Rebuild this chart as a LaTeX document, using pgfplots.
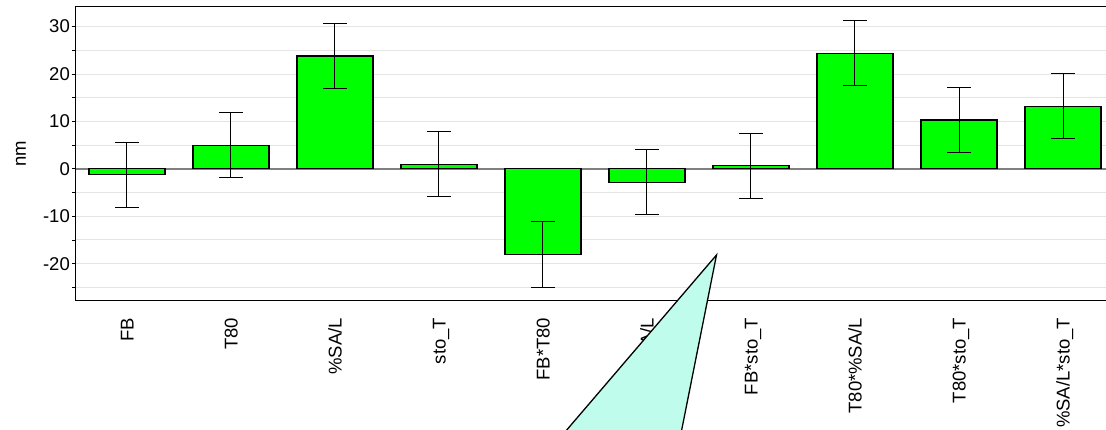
\documentclass[border=0pt]{standalone}
\usepackage{pgfplots}
\pgfplotsset{compat=1.18}
\usepackage{fontspec}
\setmainfont{Liberation Sans}
\definecolor{barg}{RGB}{0,255,0}
\definecolor{callout}{RGB}{192,252,236}
\definecolor{gridc}{RGB}{228,228,228}
\begin{document}
\begin{tikzpicture}[x=1pt,y=1pt]
\clip (0,0) rectangle (1106,430);
\begin{axis}[
  at={(76pt,129.3pt)}, anchor=south west,
  scale only axis, width=1037.9pt, height=294pt,
  xmin=-0.49, xmax=9.49, ymin=-27.8, ymax=34.2,
  font=\fontsize{18.5}{22}\selectfont,
  /pgf/number format/assume math mode=true,
  xtick=data,
  xticklabels={FB,T80,\%SA/L,sto\_T,FB*T80,FB*\%SA/L,FB*sto\_T,T80*\%SA/L,T80*sto\_T,\%SA/L*sto\_T},
  xticklabel style={rotate=90, anchor=east, inner sep=0pt, text height=13.2pt, text depth=0pt},
  xticklabel shift=13pt,
  x tick style={draw=none},
  ytick={-20,-10,0,10,20,30},
  minor ytick={-25,-15,-5,5,15,25,35},
  ytick pos=left, tick align=outside,
  major tick length=4pt, minor tick length=4pt,
  y tick style={black, line width=0.9pt},
  yticklabel style={inner sep=0pt},
  yticklabel shift=2pt,
  ymajorgrids, yminorgrids, xmajorgrids=false,
  major grid style={gridc, line width=1pt},
  minor grid style={gridc, line width=1pt},
  extra y ticks={0}, extra y tick labels={},
  extra y tick style={ymajorgrids, major grid style={gray, line width=1.3pt}, major tick length=0pt},
  x axis line style={gray!70!black, line width=1.2pt},
  y axis line style={black, line width=1pt},
  ylabel={nm},
  every axis y label/.style={at={(axis description cs:0,0.5)}, xshift=-55pt, rotate=90, anchor=center},
  ybar, bar width=76pt,
]
\addplot[fill=barg, draw=black, line width=1.1pt,
  error bars/.cd, y dir=both, y explicit,
  error bar style={black, line width=1pt},
  error mark options={black, line width=1pt, mark size=12pt, rotate=90}]
  coordinates {
  (0,-1.2) +- (0,6.85)
  (1,5.0) +- (0,6.9)
  (2,23.8) +- (0,6.9)
  (3,1.0) +- (0,6.9)
  (4,-18.1) +- (0,6.9)
  (5,-2.85) +- (0,6.85)
  (6,0.65) +- (0,6.85)
  (7,24.4) +- (0,6.9)
  (8,10.3) +- (0,6.9)
  (9,13.2) +- (0,6.9)
  };
\end{axis}
\filldraw[fill=callout, draw=black, line width=1.3pt] (716.5,175) -- (549.6,-20) -- (677.7,-20) -- cycle;
\end{tikzpicture}
\end{document}
